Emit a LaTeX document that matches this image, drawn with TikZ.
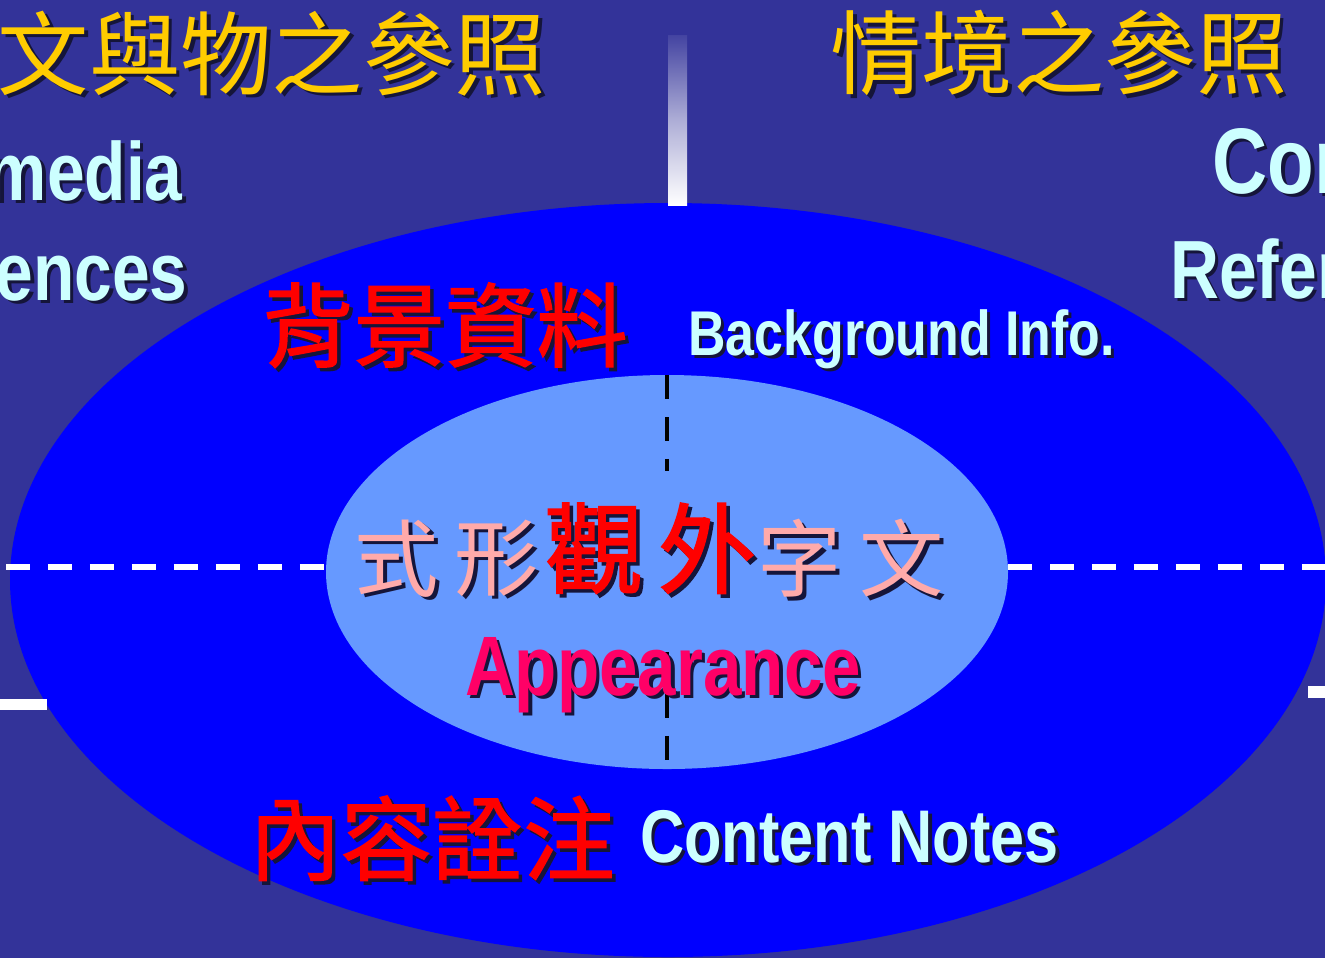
\documentclass[tikz,border=0pt]{standalone}
\usepackage{fontspec}
\setmainfont{Liberation Sans}
\newfontfamily\narrowsf[FakeStretch=0.82]{Liberation Sans}
\newfontfamily\cjk{Noto Sans CJK TC}
\newfontfamily\cjkheavy[FakeBold=1.6]{Noto Sans CJK TC}
\definecolor{slide}{HTML}{333399}
\definecolor{outerblue}{HTML}{0000FF}
\definecolor{innerblue}{HTML}{6699FF}
\definecolor{gold}{HTML}{FFCC00}
\definecolor{paleblue}{HTML}{CCFFFF}
\definecolor{hotpink}{HTML}{FF0066}
\definecolor{softpink}{HTML}{FFAAAA}
\definecolor{dropc}{HTML}{15153A}
% text with a small drop shadow
\newcommand{\dropped}[2]{\makebox[0pt][l]{\hspace{2pt}\raisebox{-2pt}{\textcolor{dropc}{#2}}}\textcolor{#1}{#2}}
\tikzset{ every node/.style={inner sep=0pt},
  {cjk title/.style} ={font=\cjk\fontsize{52}{52}\selectfont},
  {cjk bold/.style} ={font=\cjkheavy\fontsize{52}{52}\selectfont},
  {en label/.style} ={font=\narrowsf\bfseries\fontsize{#1}{#1}\selectfont},
  {white dash/.style} ={draw=white,line width=3.4pt,dash pattern=on 13.7pt off 10.2pt},
  {black dash/.style} ={draw=black,line width=2.8pt,dash pattern=on 13.7pt off 10.2pt},
  {bar/.style} ={fill=white},
 }
\begin{document}
\begin{tikzpicture}[x=0.02cm,y=-0.02cm]
\useasboundingbox (0,0) rectangle (1325,958);
\clip (0,0) rectangle (1325,958);
\fill[slide] (0,0) rectangle (1325,958);
% rings
\fill[outerblue] (668,580) ellipse [x radius=658,y radius=377];
\fill[innerblue] (667,572) ellipse [x radius=341,y radius=197];
% bars
\shade[top color=slide!92!white,bottom color=white,middle color=slide!40!white] (668,35) rectangle (687,205);
\fill[bar] (0,699) rectangle (47,710);
\fill[bar] (1308,686) rectangle (1325,698);
% axes
\coordinate (ring w) at (6,567);
\coordinate (core w) at (326,567);
\coordinate (core e) at (1008,567);
\coordinate (ring e) at (1325,567);
\coordinate (core n) at (667,375);
\coordinate (core n2) at (667,471);
\coordinate (core s2) at (667,652);
\coordinate (core s) at (667,770);
\draw[white dash] (ring w) -- (core w);
\draw[white dash] (core e) -- (ring e);
\draw[black dash] (core n) -- (core n2);
\draw[black dash] (core s2) -- (core s);
% titles
\node[cjk title] (ttl left) at (272,55) {\dropped{gold}{文與物之參照}};
\node[cjk title] (ttl right) at (1059,55) {\dropped{gold}{情境之參照}};
\node[en label=47,anchor=base east] (media) at (183,200) {\dropped{paleblue}{media}};
\node[en label=47,anchor=base east] (ences) at (188,300) {\dropped{paleblue}{ences}};
\node[en label=53,anchor=base west] (con) at (1212,193) {\dropped{paleblue}{Con}};
\node[en label=47,anchor=base west] (refer) at (1170,298) {\dropped{paleblue}{Refer}};
% ring labels
\node[cjk bold] (bg zh) at (445,327) {\dropped{red}{背景資料}};
\node[en label=36,anchor=base west] (bg en) at (688,355) {\dropped{paleblue}{Background Info.}};
\node[cjk bold] (note zh) at (432,840) {\dropped{red}{內容詮注}};
\node[en label=42.5,anchor=base west] (note en) at (640,862) {\dropped{paleblue}{Content Notes}};
% core labels
\foreach \ch/\cx in {式/397,形/497,字/800,文/902}
  \node[font=\cjk\fontsize{48}{48}\selectfont] (pink \ch) at (\cx,560) {\dropped{softpink}{\ch}};
\foreach \ch/\cx in {觀/594,外/707}
  \node[font=\cjkheavy\fontsize{56}{56}\selectfont] (red \ch) at (\cx,550) {\dropped{red}{\ch}};
\node[en label=48,anchor=base] (appear) at (663,695) {\dropped{hotpink}{Appearance}};
\end{tikzpicture}
\end{document}
